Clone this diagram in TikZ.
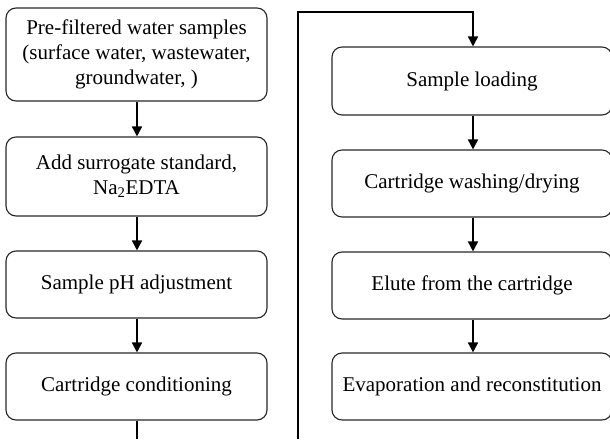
\documentclass[tikz,border=0pt]{standalone}
\usepackage{fontspec}
\setmainfont{Liberation Serif}
\usetikzlibrary{arrows.meta}
\tikzset{
  stepbox/.style={draw=black!85, line width=1.1pt, rounded corners=10pt, inner sep=0pt, align=center, font=\fontsize{21}{25}\selectfont},
  flow/.style={line width=1.6pt, -{Triangle[length=10pt,width=10pt]}},
  plain/.style={line width=1.6pt}
}
\begin{document}
\begin{tikzpicture}[x=1pt,y=-1pt]
\useasboundingbox (0,0) rectangle (610,439);
% left column
\node[stepbox, minimum width=261pt, minimum height=93pt] (b1) at (136.5,54.5) {Pre-filtered water samples\\(surface water, wastewater,\\groundwater, )};
\node[stepbox, minimum width=261pt, minimum height=79pt] (b2) at (136.5,176.5) {Add surrogate standard,\\Na\textsubscript{2}EDTA};
\node[stepbox, minimum width=261pt, minimum height=67pt] (b3) at (136.5,284.5) {Sample pH adjustment};
\node[stepbox, minimum width=261pt, minimum height=67pt] (b4) at (136.5,386.5) {Cartridge conditioning};
% right column
\node[stepbox, minimum width=280pt, minimum height=68pt] (r1) at (472,81) {Sample loading};
\node[stepbox, minimum width=280pt, minimum height=67pt] (r2) at (472,183.5) {Cartridge washing/drying};
\node[stepbox, minimum width=280pt, minimum height=67pt] (r3) at (472,285.5) {Elute from the cartridge};
\node[stepbox, minimum width=280pt, minimum height=67pt] (r4) at (472,386.5) {Evaporation and reconstitution};
% connectors
\coordinate (lb) at (137,439);
\coordinate (rb) at (298,439);
\coordinate (rt) at (298,12);
\coordinate (rtt) at (473,12);
\draw[flow] (b1.south -| 137,0) -- (b2.north -| 137,0);
\draw[flow] (b2.south -| 137,0) -- (b3.north -| 137,0);
\draw[flow] (b3.south -| 137,0) -- (b4.north -| 137,0);
\draw[plain] (b4.south -| 137,0) -- (lb);
\draw[flow] (rb) -- (rt) -- (rtt) -- (r1.north -| rtt);
\draw[flow] (r1.south -| rtt) -- (r2.north -| rtt);
\draw[flow] (r2.south -| rtt) -- (r3.north -| rtt);
\draw[flow] (r3.south -| rtt) -- (r4.north -| rtt);
\end{tikzpicture}
\end{document}
